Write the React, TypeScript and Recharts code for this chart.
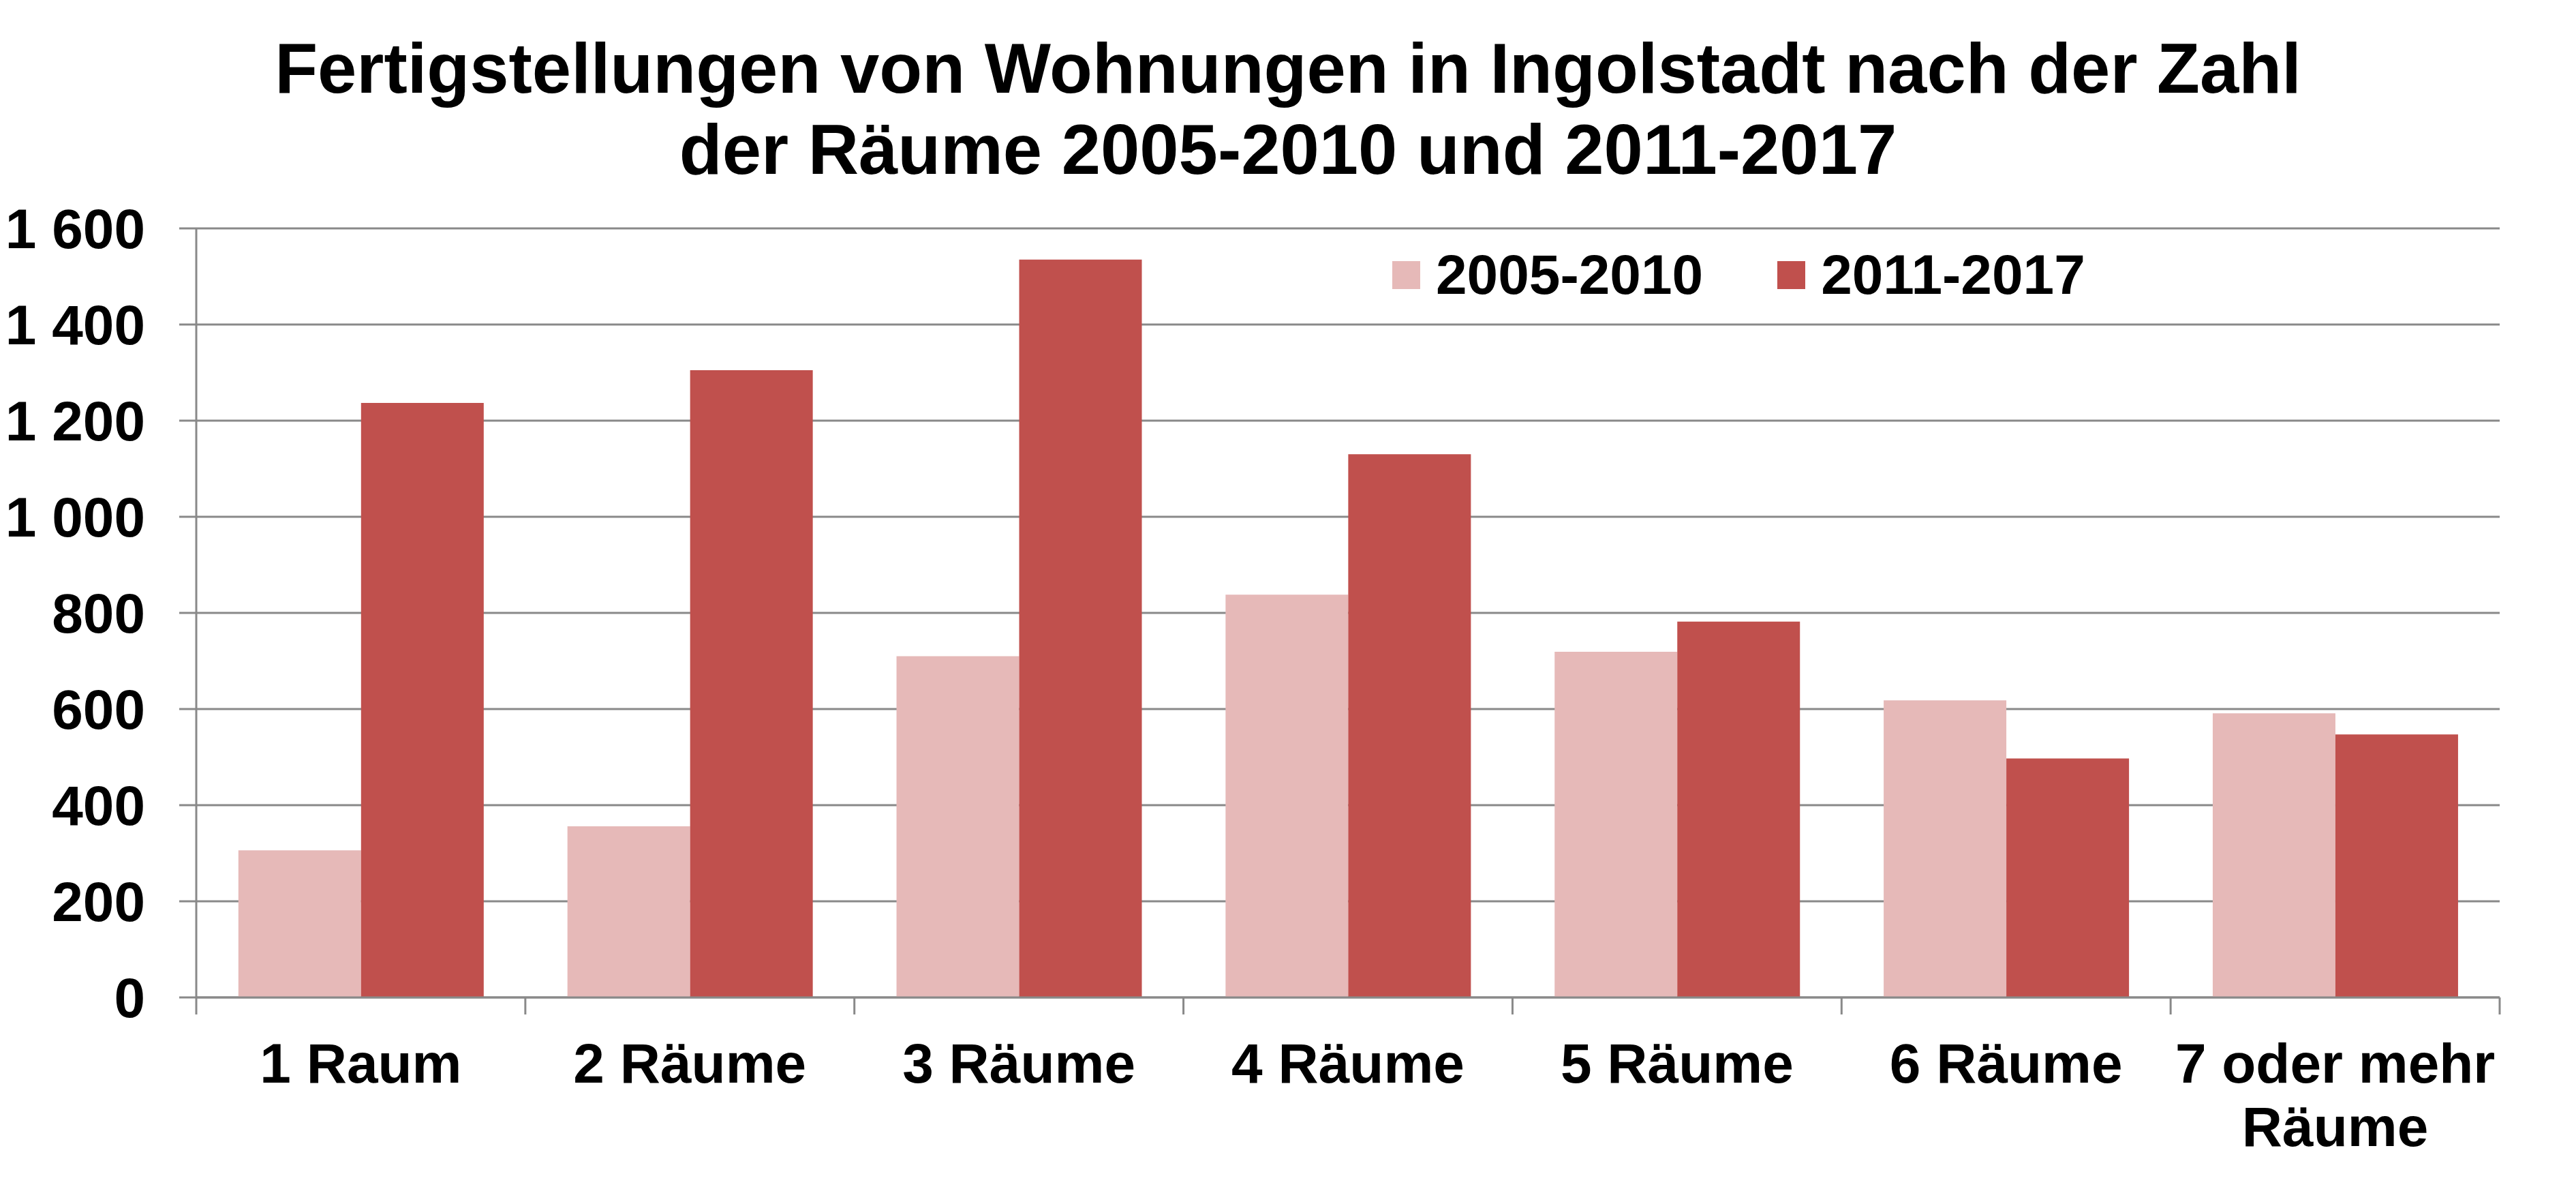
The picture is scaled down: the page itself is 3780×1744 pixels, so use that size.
import React from 'react';
import { BarChart, Bar, XAxis, YAxis, CartesianGrid, Legend } from 'recharts';

const CATEGORIES = ['1 Raum', '2 Räume', '3 Räume', '4 Räume', '5 Räume', '6 Räume', '7 oder mehr Räume'];
const VALUES_2005_2010 = [306, 356, 710, 838, 719, 618, 591];
const VALUES_2011_2017 = [1237, 1305, 1535, 1130, 782, 497, 547];
const Y_TICKS = [0, 200, 400, 600, 800, 1000, 1200, 1400, 1600];
const TITLE_LINES = [
    'Fertigstellungen von Wohnungen in Ingolstadt nach der Zahl',
    'der Räume 2005-2010 und 2011-2017',
];

const FONT = '"Liberation Sans", Arial, sans-serif';
const GRID = '#898989';
const PINK = '#E6B9B8';
const RED = '#C0504D';
const TICK_LEN = 25;
const W = 3764;
const H = 1720;

const data = CATEGORIES.map((name, i) => ({
    name,
    p1: VALUES_2005_2010[i],
    p2: VALUES_2011_2017[i],
}));

// "1 600" style thousands
const formatY = (v: number) =>
    v >= 1000 ? `${Math.floor(v / 1000)}\u00a0${String(v % 1000).padStart(3, '0')}` : String(v);

// break long labels into lines of at most max chars
function wrapLabel(s: string, max = 11): string[] {
    const lines: string[] = [];
    let cur = '';
    for (const w of s.split(' ')) {
        const next = cur ? `${cur} ${w}` : w;
        if (next.length > max && cur) {
            lines.push(cur);
            cur = w;
        } else {
            cur = next;
        }
    }
    if (cur) lines.push(cur);
    return lines;
}

function CategoryTick(props: any) {
    const { x, y, payload, index, visibleTicksCount, width } = props;
    const half = payload.offset > 0 ? payload.offset : width / visibleTicksCount / 2;
    const lines = wrapLabel(String(payload.value));
    return (
        <g>
            <line x1={x - half} x2={x - half} y1={y - TICK_LEN} y2={y} stroke={GRID} strokeWidth={3} />
            {index === visibleTicksCount - 1 && (
                <line x1={x + half} x2={x + half} y1={y - TICK_LEN} y2={y} stroke={GRID} strokeWidth={3} />
            )}
            <text
                x={x}
                y={y + 100}
                textAnchor="middle"
                fill="#000"
                fontSize={82}
                fontWeight="bold"
                fontFamily={FONT}
            >
                {lines.map((l, i) => (
                    <tspan key={i} x={x} dy={i === 0 ? 0 : 93}>
                        {l}
                    </tspan>
                ))}
            </text>
        </g>
    );
}

function LegendContent({ payload }: any) {
    return (
        <div style={{ display: 'flex', alignItems: 'center', fontFamily: FONT }}>
            {(payload || []).map((item: any, i: number) => (
                <div
                    key={i}
                    style={{ display: 'flex', alignItems: 'center', marginRight: i === 0 ? 109 : 0 }}
                >
                    <span style={{ width: 41, height: 41, background: item.color, marginRight: 23 }} />
                    <span style={{ fontSize: 82, fontWeight: 'bold', lineHeight: 1, color: '#000' }}>
                        {item.value}
                    </span>
                </div>
            ))}
        </div>
    );
}

export default function App() {
    return (
        <div style={{ position: 'relative', width: W, height: H, background: '#fff' }}>
            <svg
                width={W}
                height={300}
                style={{ position: 'absolute', top: 0, left: 0, zIndex: 2, pointerEvents: 'none' }}
            >
                {TITLE_LINES.map((t, i) => (
                    <text
                        key={i}
                        x={W / 2}
                        y={128 + i * 119}
                        textAnchor="middle"
                        fontFamily={FONT}
                        fontWeight="bold"
                        fontSize={103}
                        fill="#000"
                    >
                        {t}
                    </text>
                ))}
            </svg>
            <BarChart
                width={W}
                height={H}
                data={data}
                margin={{ top: 327, right: 104, bottom: 65, left: 0 }}
                barCategoryGap="12.8%"
                barGap={0}
            >
                <CartesianGrid vertical={false} stroke={GRID} strokeWidth={3} />
                <XAxis
                    dataKey="name"
                    height={200}
                    interval={0}
                    tickLine={false}
                    tickSize={TICK_LEN}
                    tickMargin={0}
                    axisLine={{ stroke: GRID, strokeWidth: 3 }}
                    tick={<CategoryTick />}
                />
                <YAxis
                    width={280}
                    domain={[0, 1600]}
                    ticks={Y_TICKS}
                    interval={0}
                    tickFormatter={formatY}
                    tickSize={TICK_LEN}
                    tickMargin={50}
                    axisLine={{ stroke: GRID, strokeWidth: 3 }}
                    tickLine={{ stroke: GRID, strokeWidth: 3 }}
                    tick={{ fill: '#000', fontSize: 82, fontWeight: 'bold', fontFamily: FONT }}
                />
                <Legend
                    layout="horizontal"
                    verticalAlign="middle"
                    align="center"
                    content={<LegendContent />}
                    wrapperStyle={{ left: 2035, top: 354, width: 'auto' }}
                />
                <Bar dataKey="p1" name="2005-2010" fill={PINK} isAnimationActive={false} />
                <Bar dataKey="p2" name="2011-2017" fill={RED} isAnimationActive={false} />
            </BarChart>
        </div>
    );
}
